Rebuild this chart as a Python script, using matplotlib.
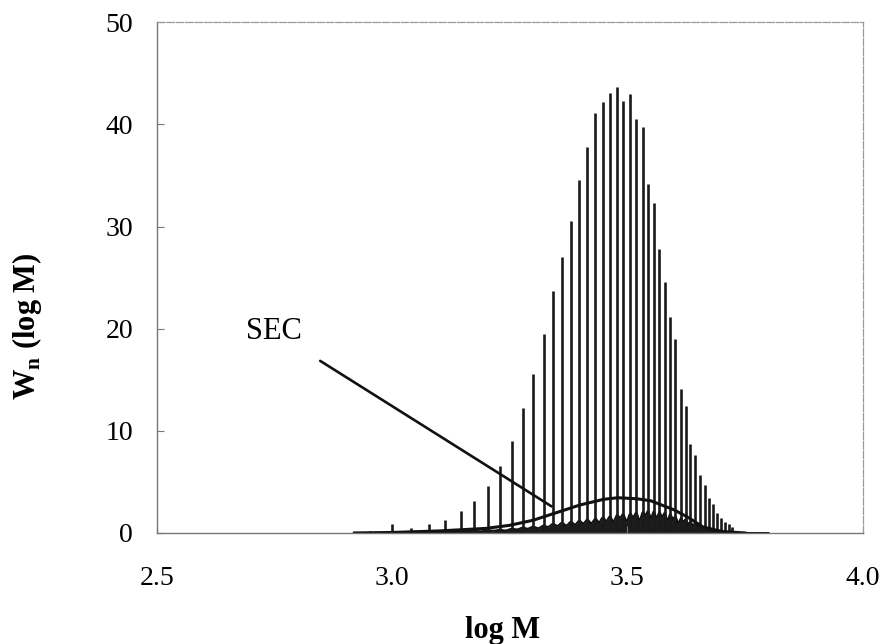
import numpy as np
import matplotlib
matplotlib.use("Agg")
import matplotlib.pyplot as plt

plt.rcParams['font.family'] = ['Liberation Serif', 'DejaVu Serif']

# oligomer peaks: position (log M) and height of each spike
peak_logm = [2.953, 2.999, 3.040, 3.078, 3.112, 3.146, 3.174, 3.203, 3.229, 3.255,
             3.278, 3.300, 3.322, 3.342, 3.361, 3.380, 3.398, 3.415, 3.432, 3.448,
             3.463, 3.478, 3.491, 3.506, 3.519, 3.533, 3.544, 3.556, 3.568, 3.579,
             3.591, 3.602, 3.614, 3.624, 3.634, 3.644, 3.654, 3.664, 3.673, 3.682,
             3.691, 3.699, 3.707, 3.715, 3.722]
peak_w = [0.2, 0.9, 0.5, 0.9, 1.3, 2.15, 3.1, 4.6, 6.6, 9.0,
          12.2, 15.6, 19.5, 23.7, 27.0, 30.5, 34.6, 37.8, 41.1, 42.2,
          43.1, 43.7, 42.3, 43.0, 40.5, 39.7, 34.2, 32.3, 27.8, 24.6,
          21.1, 19.0, 14.1, 12.4, 8.7, 7.6, 5.7, 4.7, 3.4, 2.8,
          2.0, 1.5, 1.1, 0.86, 0.62]
# broad low hump under each spike (the dark band near the baseline)
hump_w = [0.0, 0.05, 0.05, 0.1, 0.1, 0.15, 0.2, 0.25, 0.3, 0.4,
          0.5, 0.6, 0.7, 0.85, 0.95, 1.05, 1.15, 1.25, 1.35, 1.45,
          1.55, 1.65, 1.75, 1.8, 1.9, 1.95, 2.0, 2.05, 1.95, 1.85,
          1.75, 1.55, 1.4, 1.25, 1.05, 0.9, 0.75, 0.6, 0.5, 0.4,
          0.3, 0.22, 0.15, 0.1, 0.05]

# SEC distribution
sec_logm = [2.92, 3.00, 3.10, 3.20, 3.25, 3.30, 3.35, 3.40, 3.45, 3.48,
            3.52, 3.55, 3.60, 3.63, 3.66, 3.70, 3.75]
sec_w = [0.0, 0.05, 0.2, 0.45, 0.75, 1.25, 2.0, 2.75, 3.3, 3.45,
         3.35, 3.15, 2.25, 1.5, 0.6, 0.15, 0.0]

fig = plt.figure(figsize=(8.83, 6.44), dpi=100)
ax = fig.add_axes([0.1775, 0.1724, 0.7995, 0.793])

# band of humps, each spread over most of the local peak spacing
x = np.linspace(2.92, 3.80, 20000)
pos = np.array(peak_logm)
spacing = np.gradient(pos)
band = np.zeros_like(x)
for p, h, s in zip(pos, hump_w, spacing):
    band += h * np.exp(-0.5 * ((x - p) / (0.36 * s)) ** 2)
ax.fill_between(x, 0, band, color='#1c1c1c', lw=0)
ax.plot(x, band, color='#111111', lw=1.4)

ax.vlines(peak_logm, 0, peak_w, color='#1a1a1a', lw=1.9)
ax.plot(sec_logm, sec_w, color='#111111', lw=2.2)

ax.annotate('SEC', xy=(3.339, 2.6), xytext=(2.749, 19.7),
            fontsize=22, ha='center', va='center',
            arrowprops=dict(arrowstyle='-', color='#111111', lw=1.9,
                            shrinkA=16, shrinkB=0))

ax.set_xlim(2.5, 4.0)
ax.set_ylim(0, 50)
ax.set_xticks([2.5, 3.0, 3.5, 4.0])
ax.set_xticklabels(['2.5', '3.0', '3.5', '4.0'])
ax.set_yticks([0, 10, 20, 30, 40, 50])
ax.tick_params(direction='in', length=5, width=0.8, color='#777777',
               labelsize=20)
ax.tick_params(axis='x', pad=24)
ax.tick_params(axis='y', pad=17)

for side in ['left', 'bottom']:
    ax.spines[side].set_color('#777777')
    ax.spines[side].set_linewidth(1.0)
for side in ['top', 'right']:
    ax.spines[side].set_color('#9a9a9a')
    ax.spines[side].set_linewidth(0.9)
    ax.spines[side].set_linestyle((0, (6, 1.5)))

ax.set_xlabel('log M', fontsize=22, fontweight='bold')
ax.set_ylabel(r'W$_\mathregular{n}$ (log M)', fontsize=22, fontweight='bold')
ax.xaxis.set_label_coords(0.49, -0.163)
ax.yaxis.set_label_coords(-0.16, 0.405)

fig.savefig('out.png', dpi=100)
